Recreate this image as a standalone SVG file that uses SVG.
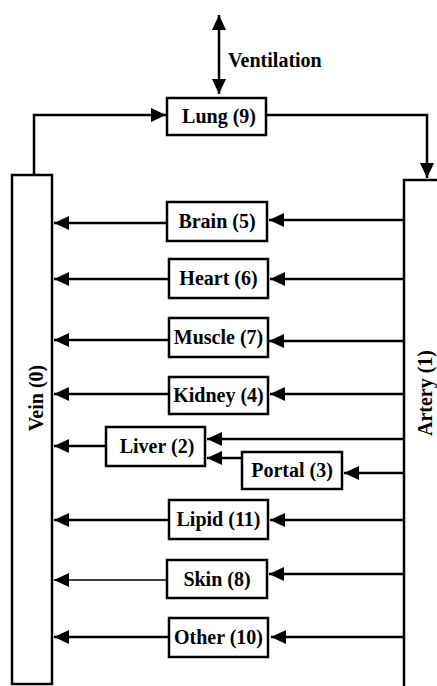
<svg xmlns="http://www.w3.org/2000/svg" width="437" height="686" viewBox="0 0 437 686">
<defs>
<marker id="ah" markerUnits="userSpaceOnUse" markerWidth="16" markerHeight="16" refX="15" refY="7" orient="auto-start-reverse" viewBox="0 0 16 14">
<path d="M0,0 L15,7 L0,14 z" fill="#000"/>
</marker>
<style>
.box{fill:#fff;stroke:#000;stroke-width:2.5}
.lbl{font-family:"Liberation Serif","Times New Roman",serif;font-weight:bold;font-size:20px;fill:#000;text-anchor:middle}
.c{fill:none;stroke:#000;stroke-width:2.5}
.a{marker-end:url(#ah)}
</style>
</defs>
<rect width="437" height="686" fill="#fff"/>
<g id="connectors">
<path class="c" d="M219,15 L219,94" marker-start="url(#ah)" marker-end="url(#ah)"/>
<path class="c a" d="M34,175 L34,115 L166,115"/>
<path class="c a" d="M266,115 L427,115 L427,178"/>
<path class="c a" d="M404,220 L269,220"/>
<path class="c a" d="M167,223 L54,223"/>
<path class="c a" d="M404,279 L270,279"/>
<path class="c a" d="M169,279 L54,279"/>
<path class="c a" d="M404,341 L269,341"/>
<path class="c a" d="M169,340 L54,340"/>
<path class="c a" d="M404,394 L270,394"/>
<path class="c a" d="M169,394 L54,394"/>
<path class="c a" d="M404,439 L207,439"/>
<path class="c a" d="M242,458 L207,458"/>
<path class="c a" d="M106,446 L54,446"/>
<path class="c a" d="M404,473 L344,473"/>
<path class="c a" d="M404,520 L270,520"/>
<path class="c a" d="M169,520 L54,520"/>
<path class="c a" d="M404,574 L269,574"/>
<path class="c a" d="M167,580 L54,580" style="stroke-width:1.5"/>
<path class="c a" d="M404,637 L271,637"/>
<path class="c a" d="M169,637 L54,637"/>
</g>
<g id="ventilation">
<text class="lbl" x="228" y="67" style="text-anchor:start">Ventilation</text>
</g>
<g id="vein">
<rect class="box" x="12" y="175" width="40" height="509"/>
<text class="lbl" x="36" y="398" dy="7" transform="rotate(-90 36 398)">Vein (0)</text>
</g>
<g id="artery">
<rect class="box" x="404" y="180" width="50" height="520"/>
<text class="lbl" x="425" y="393" dy="7" transform="rotate(-90 425 393)">Artery (1)</text>
</g>
<g id="lung">
<rect class="box" x="167" y="98" width="99" height="37"/>
<text class="lbl" x="219" y="123">Lung (9)</text>
</g>
<g id="brain">
<rect class="box" x="167" y="202" width="100" height="39"/>
<text class="lbl" x="217" y="228">Brain (5)</text>
</g>
<g id="heart">
<rect class="box" x="169" y="259" width="99" height="39"/>
<text class="lbl" x="218.5" y="285">Heart (6)</text>
</g>
<g id="muscle">
<rect class="box" x="169" y="318" width="99" height="39"/>
<text class="lbl" x="218.5" y="344">Muscle (7)</text>
</g>
<g id="kidney">
<rect class="box" x="169" y="377" width="99" height="37"/>
<text class="lbl" x="218.5" y="402">Kidney (4)</text>
</g>
<g id="liver">
<rect class="box" x="106" y="427" width="99" height="39"/>
<text class="lbl" x="157" y="453">Liver (2)</text>
</g>
<g id="portal">
<rect class="box" x="242" y="452" width="100" height="37"/>
<text class="lbl" x="292" y="477">Portal (3)</text>
</g>
<g id="lipid">
<rect class="box" x="169" y="500" width="99" height="39"/>
<text class="lbl" x="218.5" y="526">Lipid (11)</text>
</g>
<g id="skin">
<rect class="box" x="167" y="560" width="100" height="38"/>
<text class="lbl" x="217" y="586">Skin (8)</text>
</g>
<g id="other">
<rect class="box" x="169" y="618" width="99" height="39"/>
<text class="lbl" x="218.5" y="644">Other (10)</text>
</g>
</svg>
